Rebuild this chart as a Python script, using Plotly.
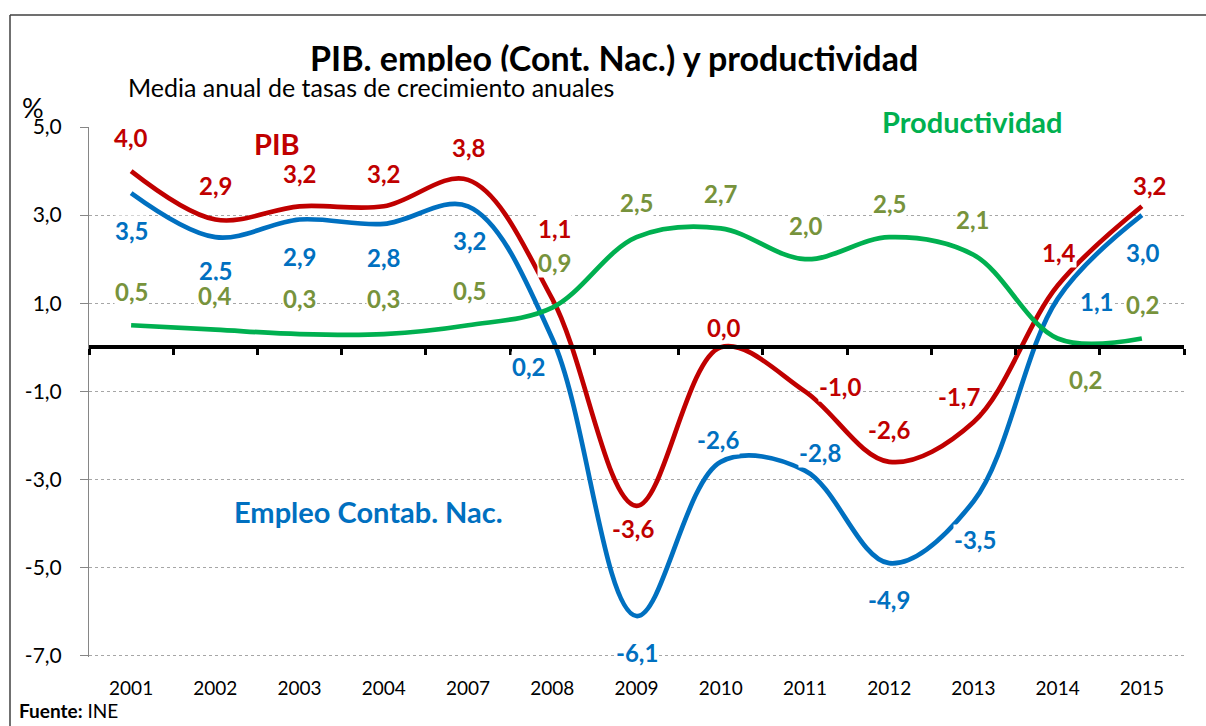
import plotly.graph_objects as go

# ---------------- data ----------------
years = ["2001", "2002", "2003", "2004", "2007", "2008", "2009",
         "2010", "2011", "2012", "2013", "2014", "2015"]
pib = [4.0, 2.9, 3.2, 3.2, 3.8, 1.1, -3.6, 0.0, -1.0, -2.6, -1.7, 1.4, 3.2]
empleo = [3.5, 2.5, 2.9, 2.8, 3.2, 0.2, -6.1, -2.6, -2.8, -4.9, -3.5, 1.1, 3.0]
productividad = [0.5, 0.4, 0.3, 0.3, 0.5, 0.9, 2.5, 2.7, 2.0, 2.5, 2.1, 0.2, 0.2]

y_tickvals = [-7, -5, -3, -1, 1, 3, 5]
y_ticktext = ["-7,0", "-5,0", "-3,0", "-1,0", "1,0", "3,0", "5,0"]

# data-label placement offsets in pixels (dx, dy up)
pib_off = [(0, 34), (0, 34), (0, 33), (0, 33), (0, 32), (2, 70), (-4, -23),
           (3, 20), (35, 5), (0, 32), (-14, 26), (1, 33), (8, 21)]
emp_off = [(0, -37), (0, -33), (0, -37), (0, -34), (1, -34), (-24, -28), (0, -36),
           (-3, 22), (15, 18), (0, -36), (2, -38), (39, -3), (1, -37)]
prod_off = [(0, 34), (0, 34), (0, 36), (0, 36), (1, 35), (2, 45), (0, 35),
            (0, 35), (1, 34), (0, 34), (-1, 35), (28, -41), (1, 34)]

# ---------------- style ----------------
FONT = "Lato"
RED, BLUE, GREEN, OLIVE = "#C00000", "#0070C0", "#00B050", "#77933C"
W, H = 1206, 726
L, R, T, B = 89, 1184, 127, 657
Y_RANGE = [-7.03, 5]


def px_x(p):
    return (p - L) / (R - L)


def px_y(p):
    return (B - p) / (B - T)


def fmt(v):
    return f"{v:.1f}".replace(".", ",")


fig = go.Figure()
for vals, col, xa in [(pib, RED, "x"), (empleo, BLUE, "x"), (productividad, GREEN, "x2")]:
    fig.add_trace(go.Scatter(
        x=years, y=vals, mode="lines", xaxis=xa, yaxis="y",
        line=dict(color=col, width=4.7, shape="spline", smoothing=1.0),
        hoverinfo="skip", showlegend=False))

annotations = []
for vals, offs, col in [(pib, pib_off, RED), (empleo, emp_off, BLUE),
                        (productividad, prod_off, OLIVE)]:
    for i, (v, (dx, dy)) in enumerate(zip(vals, offs)):
        annotations.append(dict(
            x=i, y=v, xref="x", yref="y", text=f"<b>{fmt(v)}</b>",
            showarrow=False, xshift=dx, yshift=dy, bgcolor="white",
            borderpad=0, font=dict(family=FONT, size=24, color=col),
            xanchor="center", yanchor="middle"))

# series names
annotations += [
    dict(x=px_x(277), y=px_y(143), xref="paper", yref="paper", text="<b>PIB</b>",
         showarrow=False, xanchor="center", yanchor="middle",
         font=dict(family=FONT, size=29, color=RED)),
    dict(x=px_x(972), y=px_y(121), xref="paper", yref="paper",
         text="<b>Productividad</b>", showarrow=False, xanchor="center", yanchor="middle",
         font=dict(family=FONT, size=29, color=GREEN)),
    dict(x=px_x(368), y=px_y(511), xref="paper", yref="paper",
         text="<b>Empleo Contab. Nac.</b>", showarrow=False, xanchor="center",
         yanchor="middle", font=dict(family=FONT, size=29, color=BLUE)),
]

# title, subtitle, units, source
annotations += [
    dict(x=px_x(614), y=px_y(58), xref="paper", yref="paper",
         text="<b>PIB. empleo (Cont. Nac.) y productividad</b>", showarrow=False,
         xanchor="center", yanchor="middle",
         font=dict(family=FONT, size=34, color="black")),
    dict(x=px_x(127), y=px_y(87), xref="paper", yref="paper",
         text="Media anual de tasas de crecimiento anuales", showarrow=False,
         xanchor="left", yanchor="middle", bgcolor="white", borderpad=0,
         font=dict(family=FONT, size=25, color="black")),
    dict(x=px_x(33), y=px_y(107), xref="paper", yref="paper", text="%",
         showarrow=False, xanchor="center", yanchor="middle",
         font=dict(family=FONT, size=27, color="black")),
    dict(x=px_x(17), y=px_y(710), xref="paper", yref="paper",
         text="<b>Fuente:</b> INE", showarrow=False, xanchor="left", yanchor="middle",
         font=dict(family=FONT, size=19, color="black")),
]

shapes = [
    dict(type="line", xref="paper", yref="paper", x0=px_x(10), y0=px_y(15),
         x1=px_x(W + 5), y1=px_y(15), line=dict(color="#404040", width=1.5)),
    dict(type="line", xref="paper", yref="paper", x0=px_x(10), y0=px_y(15),
         x1=px_x(10), y1=px_y(H + 5), line=dict(color="#404040", width=1.5)),
]

zero_pos = (0 - Y_RANGE[0]) / (Y_RANGE[1] - Y_RANGE[0])

fig.update_layout(
    width=W, height=H,
    margin=dict(l=L, r=W - R, t=T, b=H - B, pad=0),
    paper_bgcolor="white", plot_bgcolor="white",
    font=dict(family=FONT, color="black"),
    annotations=annotations, shapes=shapes,
    xaxis=dict(type="category", categoryorder="array", categoryarray=years,
               range=[-0.5, len(years) - 0.5], showgrid=False, showline=False,
               zeroline=False, ticks="", tickfont=dict(family=FONT, size=19, color="black"),
               ticklabelstandoff=18),
    xaxis2=dict(type="category", categoryorder="array", categoryarray=years,
                overlaying="x", anchor="free", position=zero_pos, side="bottom",
                range=[-0.5, len(years) - 0.5], showgrid=False, zeroline=False,
                showline=True, linewidth=4, linecolor="black",
                tickson="boundaries", ticks="outside", ticklen=6, tickwidth=3,
                tickcolor="black", showticklabels=False),
    yaxis=dict(range=Y_RANGE, tickmode="array", tickvals=y_tickvals, ticktext=y_ticktext,
               showgrid=True, gridcolor="#A6A6A6", griddash="dot", gridwidth=1,
               zeroline=False, showline=True, linecolor="#868686", linewidth=1,
               ticks="outside", ticklen=8, tickcolor="#868686",
               tickfont=dict(family=FONT, size=21, color="black"), ticklabelstandoff=14),
)

fig.write_html("out.html", config={"displayModeBar": False},
               post_script="document.body.style.margin='0px';")
